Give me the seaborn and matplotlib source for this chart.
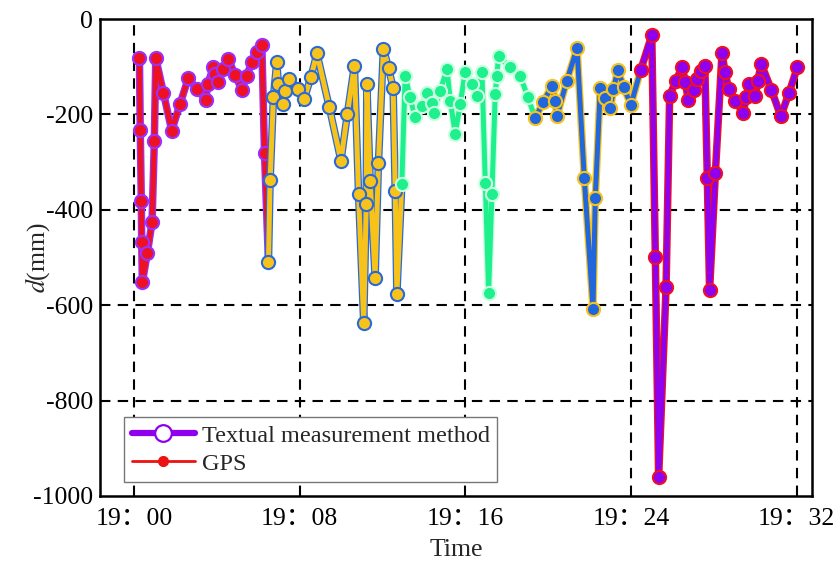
import pandas as pd
import matplotlib
matplotlib.use('Agg')
import matplotlib.pyplot as plt
from matplotlib.lines import Line2D
import seaborn as sns

# minutes after 19:00 and displacement d (mm), one array pair per coloured stretch
t_red = [0.26, 0.30, 0.35, 0.37, 0.40, 0.64, 0.87, 0.98, 1.05, 1.42, 1.82, 2.22, 2.62,
         3.03, 3.46, 3.56, 3.83, 3.91, 4.07, 4.31, 4.55, 4.88, 5.20, 5.44, 5.68, 5.93,
         6.17, 6.30]
d_red = [-82, -232, -381, -467, -552, -491, -426, -255, -82, -155, -234, -178, -124,
         -147, -169, -136, -101, -115, -133, -105, -84, -117, -148, -120, -90, -70,
         -54, -281]

t_yellow = [6.49, 6.57, 6.73, 6.89, 6.97, 7.21, 7.29, 7.50, 7.94, 8.21, 8.54, 8.83,
            9.43, 9.99, 10.30, 10.64, 10.84, 11.09, 11.21, 11.24, 11.40, 11.64, 11.80,
            12.04, 12.29, 12.51, 12.61, 12.69]
d_yellow = [-509, -337, -164, -91, -136, -178, -150, -126, -147, -168, -122, -72,
            -185, -297, -199, -98, -367, -637, -388, -136, -339, -542, -302,
            -62, -103, -145, -360, -577]

t_green = [12.93, 13.09, 13.33, 13.57, 13.90, 14.14, 14.38, 14.46, 14.78, 15.11, 15.27,
           15.51, 15.75, 15.99, 16.31, 16.56, 16.80, 16.96, 17.12, 17.28, 17.44, 17.52,
           17.60, 18.13, 18.65, 19.02]
d_green = [-346, -119, -164, -206, -182, -154, -175, -196, -150, -105, -171,
           -241, -178, -110, -136, -161, -112, -343, -574, -367, -157, -119,
           -77, -100, -120, -164]

t_blue = [19.37, 19.77, 20.18, 20.34, 20.42, 20.90, 21.39, 21.74, 22.16, 22.27, 22.51,
          22.75, 23.00, 23.15, 23.36, 23.64, 23.99]
d_blue = [-208, -173, -140, -171, -203, -129, -61, -334, -607, -376, -145,
          -166, -187, -147, -106, -143, -180]

t_purple = [24.47, 25.00, 25.17, 25.33, 25.69, 25.86, 26.16, 26.47, 26.62, 26.76, 27.02,
            27.18, 27.39, 27.56, 27.68, 27.79, 28.07, 28.39, 28.53, 28.71, 29.01, 29.41,
            29.56, 29.68, 30.00, 30.11, 30.29, 30.77, 31.23, 31.63, 32.03]
d_purple = [-106, -34, -498, -960, -561, -162, -129, -101, -133, -169, -148,
            -126, -108, -98, -333, -569, -322, -71, -110, -147, -171, -196,
            -164, -137, -162, -129, -95, -148, -204, -154, -101]

tick_minutes = [0, 8, 16, 24, 32]
tick_labels = ['19：00', '19：08', '19：16', '19：24', '19：32']
legend_labels = ['Textual measurement method', 'GPS']

# (face colour, edge colour) for each stretch
styles = [
    ('#ee1122', '#9b30ff'),
    ('#f7c21a', '#2a6ad8'),
    ('#1ff08e', '#c9ffe0'),
    ('#2266dd', '#f7c21a'),
    ('#8f00ee', '#ee1122'),
]

sns.set_style('white')
plt.rcParams['font.family'] = ['Liberation Serif', 'Noto Sans CJK SC']
plt.rcParams['mathtext.fontset'] = 'stix'
plt.rcParams['axes.unicode_minus'] = False

segments = [(t_red, d_red), (t_yellow, d_yellow), (t_green, d_green),
            (t_blue, d_blue), (t_purple, d_purple)]

fig = plt.figure(figsize=(8.34, 5.61), dpi=100)
ax = fig.add_axes([0.12, 0.116, 0.854, 0.85])

grid_style = (0, (5, 3.5))
for xv in tick_minutes:
    ax.axvline(xv, color='black', lw=1.5, ls=grid_style, zorder=1)
for yv in [-200, -400, -600, -800]:
    ax.axhline(yv, color='black', lw=1.5, ls=grid_style, zorder=1)

for i, ((tt, dd), (face, edge)) in enumerate(zip(segments, styles)):
    line_t = list(tt)
    line_d = list(dd)
    if i + 1 < len(segments):
        line_t.append(segments[i + 1][0][0])
        line_d.append(segments[i + 1][1][0])
    line_df = pd.DataFrame({'t': line_t, 'd': line_d})
    pts_df = pd.DataFrame({'t': tt, 'd': dd})
    # underlying GPS-like outline and main thick line
    sns.lineplot(data=line_df, x='t', y='d', sort=False, estimator=None, errorbar=None,
                 color=edge, lw=5.4, ax=ax, zorder=2 + i * 0.1)
    sns.lineplot(data=line_df, x='t', y='d', sort=False, estimator=None, errorbar=None,
                 color=face, lw=3.6, ax=ax, zorder=2.02 + i * 0.1)
    sns.scatterplot(data=pts_df, x='t', y='d', color=face, edgecolor=edge,
                    linewidth=1.5, s=90, ax=ax, zorder=2.05 + i * 0.1)

ax.set_xlim(-1.64, 32.75)
ax.set_ylim(-1000, 0)
ax.set_xticks(tick_minutes)
ax.set_xticklabels(tick_labels)
ax.set_yticks([0, -200, -400, -600, -800, -1000])
ax.tick_params(direction='in', length=6, width=1.5, labelsize=18.5, colors='black',
               top=False, right=False)
ax.tick_params(axis='x', pad=9)
ax.tick_params(axis='y', pad=5)
for sp in ax.spines.values():
    sp.set_color('black')
    sp.set_linewidth(1.8)
ax.set_xlabel('Time', fontsize=18.5, labelpad=6)
ax.set_ylabel('$d$(mm)', fontsize=18.5)
ax.yaxis.set_label_coords(-0.068, 0.5)

handles = [
    Line2D([], [], color='#8f00ee', lw=4.5, marker='o', markersize=12,
           markerfacecolor='white', markeredgecolor='#8f00ee', markeredgewidth=1.6),
    Line2D([], [], color='#ee1111', lw=2, marker='o', markersize=7,
           markerfacecolor='#ee1111', markeredgecolor='#ee1111'),
]
leg = ax.legend(handles, legend_labels, loc='lower left', bbox_to_anchor=(0.034, 0.029),
                borderaxespad=0, fontsize=17.5, frameon=True, fancybox=False,
                handlelength=2.6, handletextpad=0.3, labelspacing=0.25, borderpad=0.3)
leg.get_frame().set_edgecolor('#777777')
leg.get_frame().set_linewidth(1.0)
leg.get_frame().set_alpha(1)
leg.set_zorder(10)

fig.savefig('out.png', dpi=100)
